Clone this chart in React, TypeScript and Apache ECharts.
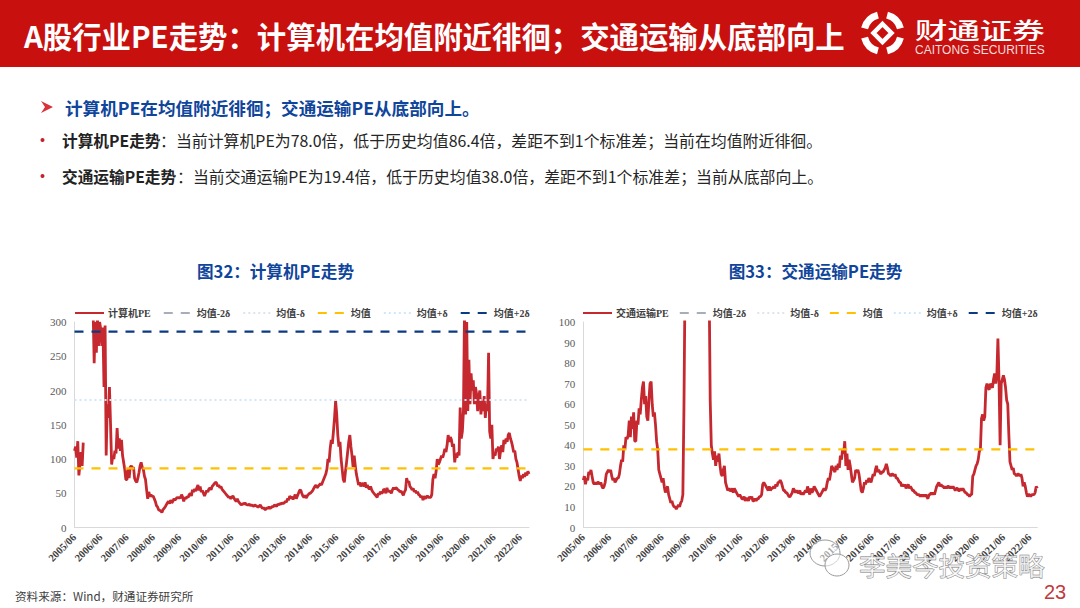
import React, { useEffect, useRef } from "react";
import * as echarts from "echarts";

const _ = null;
const computerPE = [
  112,118,102,126,76,92,110,90,124,_,_,_,_,_,_,_,_,320,240,300,255,310,265,300,
  290,265,292,205,295,105,180,160,205,150,92,105,100,112,108,145,115,130,112,128,105,95,85,70,
  70,85,72,88,90,86,88,72,68,66,72,80,90,95,88,85,75,70,55,42,52,45,48,45,
  46,42,38,32,30,26,25,24,22,26,28,30,33,36,38,35,40,36,38,42,40,42,44,43,
  44,43,48,44,38,44,42,45,44,48,50,46,55,52,56,53,58,62,54,60,52,54,50,46,
  50,54,52,56,58,55,60,62,64,66,65,60,62,58,60,56,54,52,50,48,46,44,45,42,
  44,46,43,40,38,42,38,36,34,33,35,34,36,34,33,33,34,32,33,32,31,33,32,31,
  30,31,33,30,28,29,27,26,29,28,30,28,29,31,30,33,32,31,34,33,35,34,36,35,
  36,38,37,42,40,46,43,45,41,44,48,42,46,50,54,55,50,46,44,47,43,46,48,50,
  50,52,54,57,60,62,58,60,62,64,62,66,70,74,78,85,100,95,115,128,122,140,160,185,
  165,135,118,125,100,85,70,66,82,95,110,125,135,118,105,88,105,90,78,70,62,66,60,64,
  64,60,66,58,62,58,56,60,55,52,50,48,46,44,50,48,52,50,51,56,55,50,58,52,
  54,52,50,55,58,56,58,57,55,54,52,53,50,47,52,55,72,66,68,60,58,55,57,52,
  54,50,52,48,47,44,46,40,46,42,44,46,44,44,44,48,70,78,72,82,100,92,95,100,
  105,102,108,115,110,120,135,125,132,128,118,122,95,108,102,110,105,175,130,140,170,320,165,300,
  170,245,180,225,200,215,180,205,195,170,190,200,165,185,170,192,160,180,170,255,140,130,150,100,
  108,105,115,112,118,100,112,120,110,128,122,130,125,135,138,130,125,118,110,112,100,95,85,75,
  68,76,72,78,74,80,76,82,78,
];
const transportPE = [
  23,25,21,24,23,27,26,28,25,22,21,22,21,22,22,21,22,20,19,20,22,26,27,28,
  27,28,25,23,24,22,23,24,24,26,30,33,32,40,38,44,43,45,52,44,54,48,56,42,
  42,52,50,58,55,62,68,71,60,64,54,52,62,70,71,60,54,56,50,42,38,28,26,24,
  22,24,20,17,19,20,16,14,12,13,11,10,10,9,10,11,10,12,13,16,58,120,130,140,
  150,155,160,170,175,180,175,170,165,160,155,150,145,140,140,135,130,130,125,120,62,40,36,33,
  37,30,35,32,36,30,26,25,28,30,22,20,18,19,18,18,19,17,19,18,17,16,15,16,
  15,14,14,15,13,14,14,13,15,14,15,13,13,14,13,14,14,15,15,16,21,22,21,20,
  19,18,20,18,19,19,20,19,21,20,22,22,23,22,20,18,18,17,17,16,15,15,16,17,
  19,18,17,18,17,17,18,16,17,16,17,18,17,20,18,16,19,17,18,20,19,18,17,16,
  15,16,17,18,19,18,19,22,24,23,26,30,29,28,27,30,28,31,29,35,33,38,36,42,
  30,36,28,33,30,26,22,23,24,28,27,28,26,22,18,17,19,22,21,23,22,24,23,22,
  24,26,25,28,30,27,28,27,26,27,27,28,29,31,29,26,26,25,26,26,25,26,24,24,
  23,22,22,20,21,20,21,19,20,21,19,20,19,18,18,17,17,16,16,16,15,16,15,16,
  15,16,15,14,16,16,17,16,17,16,18,20,21,22,20,21,20,20,19,20,19,20,20,19,
  20,19,20,19,18,19,19,18,18,19,18,19,18,17,17,16,16,15,16,16,25,26,28,30,
  31,33,37,38,53,55,52,54,68,70,68,67,70,69,68,72,75,70,74,92,72,40,70,72,
  74,72,68,62,60,45,32,30,28,29,26,26,25,26,26,25,26,24,20,22,20,17,15,16,
  16,15,16,16,16,17,20,19,
];
const computerBands = [-114, -14, 86.4, 186, 286];
const transportBands = [-222, -92, 38, 168, 298];
const bandNames = ["均值-2δ", "均值-δ", "均值", "均值+δ", "均值+2δ"];
const titleText = "A股行业PE走势：计算机在均值附近徘徊；交通运输从底部向上";
const headline = "计算机PE在均值附近徘徊；交通运输PE从底部向上。";
const bullet1Bold = "计算机PE走势";
const bullet1 = "：当前计算机PE为78.0倍，低于历史均值86.4倍，差距不到1个标准差；当前在均值附近徘徊。";
const bullet2Bold = "交通运输PE走势";
const bullet2 = "：当前交通运输PE为19.4倍，低于历史均值38.0倍，差距不到1个标准差；当前从底部向上。";

const CJK = '"Noto Sans CJK SC","Noto Sans",sans-serif';
const SERIF = '"Liberation Serif","Noto Sans CJK SC",serif';
const RED = "#c5282e";
const BLUE = "#0f459b";

function makeCategories(n: number) {
  const out: string[] = [];
  for (let i = 0; i < n; i++) {
    const m = 5 + Math.floor(i / 2);
    const y = 2005 + Math.floor(m / 12);
    out.push(`${y}/${String((m % 12) + 1).padStart(2, "0")}`);
  }
  return out;
}

const bandStyles: any[] = [
  { color: "#a6adbb", type: [9, 8], width: 2.2 },
  { color: "#dfe3ea", type: [2, 3], width: 2 },
  { color: "#ffc000", type: [9, 8], width: 2.2 },
  { color: "#cfe7fb", type: [2, 3], width: 2 },
  { color: "#0a3a82", type: [9, 8], width: 2.2 },
];

function panelSeries(name: string, values: any[], bands: number[], axis: number) {
  const last = values.length - 1;
  return [
    {
      name, type: "line", xAxisIndex: axis, yAxisIndex: axis, data: values, symbol: "none",
      connectNulls: false, lineStyle: { color: RED, width: 2.8 }, itemStyle: { color: RED }, clip: true,
    },
    ...bandNames.map((b, i) => ({
      name: b, type: "line", xAxisIndex: axis, yAxisIndex: axis, symbol: "none", clip: true,
      data: [[0, bands[i]], [last, bands[i]]],
      lineStyle: bandStyles[i], itemStyle: { color: bandStyles[i].color },
    })),
  ];
}

function legend(name: string, left: number, gap: number) {
  return {
    left, top: 308, itemWidth: 29, itemHeight: 10, itemGap: gap, padding: 0,
    data: [name, ...bandNames], selectedMode: false,
    itemStyle: { color: "transparent", borderColor: "transparent", borderWidth: 0, opacity: 0 },
    textStyle: { fontFamily: SERIF, fontSize: 10, fontWeight: "bold", color: "#404040", padding: [0, 0, 0, -1] },
  };
}

function xAxis(cats: string[], grid: number) {
  return {
    type: "category", gridIndex: grid, data: cats, boundaryGap: false,
    axisLine: { lineStyle: { color: "#d9d9d9", width: 1 } }, axisTick: { show: false },
    axisLabel: {
      interval: (i: number) => i % 24 === 0, rotate: 45, margin: 8, hideOverlap: false,
      fontFamily: SERIF, fontSize: 10.5, fontWeight: "bold", color: "#404040",
    },
  };
}

function yAxis(max: number, interval: number, grid: number) {
  return {
    type: "value", gridIndex: grid, min: 0, max, interval, splitLine: { show: false },
    axisLine: { show: true, lineStyle: { color: "#d9d9d9", width: 1 } }, axisTick: { show: false },
    axisLabel: { fontFamily: SERIF, fontSize: 11, color: "#595959", margin: 8 },
  };
}

function txt(text: string, x: number, y: number, font: string, fill: string, extra: any = {}) {
  return { type: "text", x, y, silent: true, style: { text, font, fill, textVerticalAlign: "middle", ...extra } };
}

function logoArc(a: number, b: number) {
  return {
    type: "arc", silent: true,
    shape: { cx: 882.5, cy: 33, r: 18.5, startAngle: a, endAngle: b },
    style: { stroke: "#fff", lineWidth: 7, fill: "none" },
  };
}

export default function App() {
  const ref = useRef<HTMLDivElement>(null);
  useEffect(() => {
    const chart = echarts.init(ref.current!, undefined, { renderer: "svg" });
    chart.setOption({
      animation: false,
      backgroundColor: "#fff",
      legend: [legend("计算机PE", 74, 12), legend("交通运输PE", 582, 10)],
      grid: [
        { left: 74.5, top: 322, width: 454.5, height: 205.5 },
        { left: 583.3, top: 322, width: 454, height: 205.5 },
      ],
      xAxis: [xAxis(makeCategories(computerPE.length), 0), xAxis(makeCategories(transportPE.length), 1)],
      yAxis: [yAxis(300, 50, 0), yAxis(100, 10, 1)],
      series: [
        ...panelSeries("计算机PE", computerPE, computerBands, 0),
        ...panelSeries("交通运输PE", transportPE, transportBands, 1),
      ],
      graphic: [
        { type: "rect", z: -1, silent: true, shape: { x: 0, y: 0, width: 1080, height: 67 }, style: { fill: "#c8100f" } },
        txt(titleText, 24, 35, `bold 29.4px ${CJK}`, "#fff"),
        logoArc(-Math.PI * 0.42, -Math.PI * 0.08),
        logoArc(Math.PI * 0.08, Math.PI * 0.42),
        logoArc(Math.PI * 0.58, Math.PI * 0.92),
        logoArc(Math.PI * 1.08, Math.PI * 1.42),
        {
          type: "polygon", silent: true,
          shape: { points: [[882.5, 24], [891.5, 33], [882.5, 42], [873.5, 33]] },
          style: { fill: "none", stroke: "#fff", lineWidth: 4.5 },
        },
        { ...txt("财通证券", 915, 29, `500 23px ${CJK}`, "#fff"), scaleX: 1.41 },
        txt("CAITONG SECURITIES", 915, 49.5, `12px "Liberation Sans",sans-serif`, "#f6dcdc"),
        {
          type: "polygon", silent: true,
          shape: { points: [[41, 101], [53, 107], [41, 113], [45, 107]] },
          style: { fill: "#d9303a" },
        },
        txt(headline, 65, 107, `bold 17.6px ${CJK}`, BLUE),
        { type: "circle", silent: true, shape: { cx: 42.5, cy: 140, r: 2 }, style: { fill: "#c8202a" } },
        txt(bullet1Bold, 62, 140, `bold 15.7px ${CJK}`, "#222"),
        txt(bullet1, 160, 140, `15.9px ${CJK}`, "#262626"),
        { type: "circle", silent: true, shape: { cx: 42.5, cy: 176, r: 2 }, style: { fill: "#c8202a" } },
        txt(bullet2Bold, 62, 176, `bold 15.7px ${CJK}`, "#222"),
        txt(bullet2, 177, 176, `15.9px ${CJK}`, "#262626"),
        txt("图32：计算机PE走势", 275.5, 271, `bold 16.6px ${CJK}`, BLUE, { textAlign: "center" }),
        txt("图33：交通运输PE走势", 815.5, 271, `bold 16.6px ${CJK}`, BLUE, { textAlign: "center" }),
        txt("资料来源：Wind，财通证券研究所", 15, 596, `11.6px ${CJK}`, "#404040"),
        txt("23", 1044, 592, `20px "Liberation Sans",sans-serif`, "#c0393b"),
        { type: "ellipse", silent: true, z: 20, shape: { cx: 825, cy: 553, rx: 15, ry: 13 }, style: { fill: "rgba(255,255,255,0.55)", stroke: "#9a9a9a", lineWidth: 1 } },
        { type: "ellipse", silent: true, z: 20, shape: { cx: 837, cy: 565, rx: 12, ry: 11 }, style: { fill: "rgba(255,255,255,0.55)", stroke: "#9a9a9a", lineWidth: 1 } },
        {
          ...txt("李美岑投资策略", 859, 564, `26.5px ${CJK}`, "rgba(255,255,255,0.7)", { stroke: "#777", lineWidth: 0.8 }),
          z: 20,
        },
      ],
    });
    return () => chart.dispose();
  }, []);
  return <div ref={ref} style={{ position: "fixed", left: 0, top: 0, width: 1080, height: 608 }} />;
}
